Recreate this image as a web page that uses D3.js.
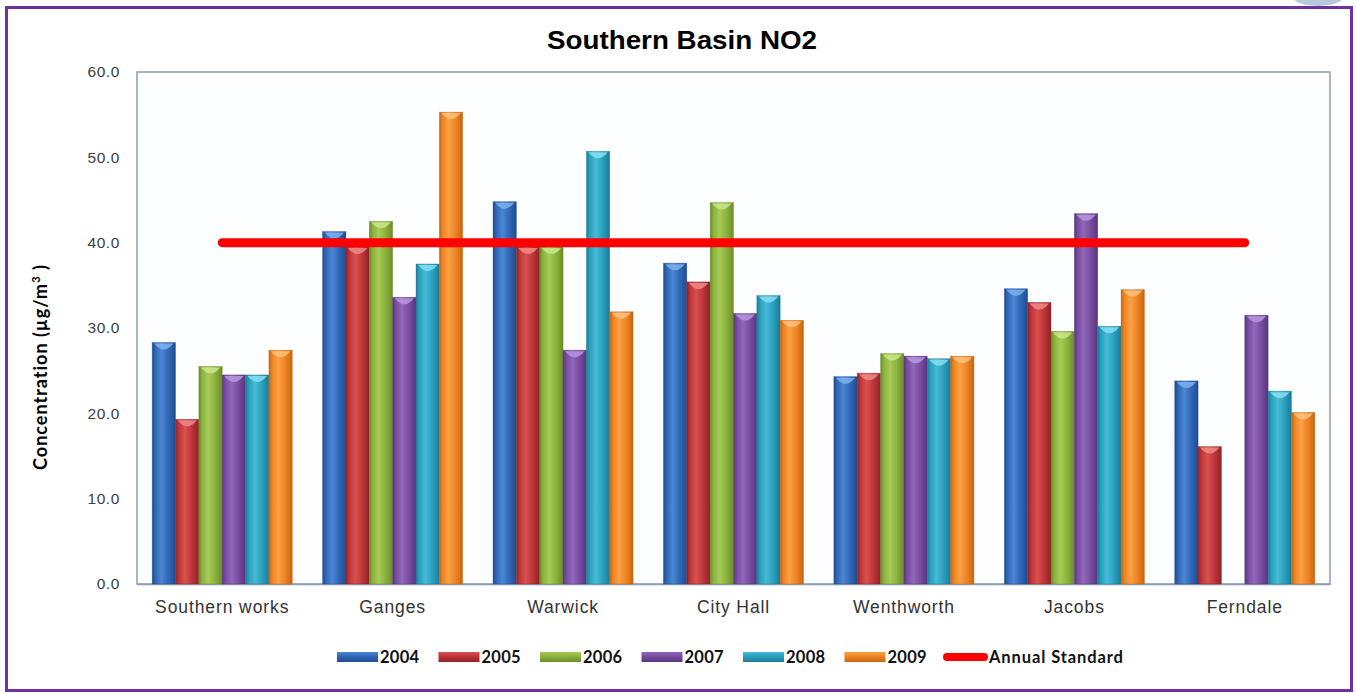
<!DOCTYPE html>
<html>
<head>
<meta charset="utf-8">
<script src="https://cdn.jsdelivr.net/npm/d3@7"></script>
<style>
  html, body { margin: 0; padding: 0; background: #ffffff; }
  svg { display: block; }
</style>
</head>
<body>
<svg id="chart" width="1356" height="693"></svg>
<script>
// Monitoring sites along the x axis
const categories = ["Southern works", "Ganges", "Warwick", "City Hall", "Wenthworth", "Jacobs", "Ferndale"];
// Years shown as grouped bars
const years = ["2004", "2005", "2006", "2007", "2008", "2009"];
// Annual mean NO2 concentration per site (µg/m³), one array per year
const v2004 = [28.3, 41.3, 44.8, 37.6, 24.3, 34.6, 23.8];
const v2005 = [19.3, 39.5, 39.5, 35.4, 24.7, 33.0, 16.1];
const v2006 = [25.5, 42.5, 39.5, 44.7, 27.0, 29.6, null];
const v2007 = [24.5, 33.6, 27.4, 31.7, 26.7, 43.4, 31.5];
const v2008 = [24.5, 37.5, 50.7, 33.8, 26.4, 30.2, 22.6];
const v2009 = [27.4, 55.3, 31.9, 30.9, 26.7, 34.5, 20.1];
// Annual standard for NO2 at every site
const annualStandard = [40, 40, 40, 40, 40, 40, 40];
// Y axis tick values
const yTicks = [0, 10, 20, 30, 40, 50, 60];

const seriesValues = [v2004, v2005, v2006, v2007, v2008, v2009];

// Bar palette: edge, base, highlight, cap
const palette = [
  { dark: "#1f4d8f", base: "#2f67b6", light: "#4b86d4", cap: "#7db0ee" },
  { dark: "#8e2327", base: "#be3539", light: "#d8514f", cap: "#ef8a88" },
  { dark: "#6a8c2a", base: "#8bb23d", light: "#a6cb56", cap: "#c8e88a" },
  { dark: "#58357e", base: "#784ca1", light: "#9167ba", cap: "#b895de" },
  { dark: "#1c7c96", base: "#2a9fbe", light: "#46bad6", cap: "#86def2" },
  { dark: "#c56612", base: "#ef8323", light: "#f9a146", cap: "#fcc27f" }
];

const svg = d3.select("#chart");
const W = 1356, H = 693;

const margin = { left: 137, right: 26, top: 72, bottom: 109 };
const plotW = W - margin.left - margin.right;
const plotH = H - margin.top - margin.bottom;

const defs = svg.append("defs");
palette.forEach((p, i) => {
  const g = defs.append("linearGradient")
    .attr("id", "barGrad" + i).attr("x1", "0").attr("x2", "1").attr("y1", "0").attr("y2", "0");
  [[0, p.dark], [0.14, p.base], [0.4, p.light], [0.7, p.base], [1, p.dark]].forEach(([o, c]) =>
    g.append("stop").attr("offset", o).attr("stop-color", c));
  const gv = defs.append("linearGradient")
    .attr("id", "legGrad" + i).attr("x1", "0").attr("x2", "0").attr("y1", "0").attr("y2", "1");
  [[0, p.light], [0.45, p.base], [1, p.dark]].forEach(([o, c]) =>
    gv.append("stop").attr("offset", o).attr("stop-color", c));
});

// Page frame
svg.append("rect")
  .attr("x", 6.5).attr("y", 7.5).attr("width", 1345).attr("height", 683)
  .attr("fill", "none").attr("stroke", "#7030a0").attr("stroke-width", 3);

// Small page-curl mark at top-right corner
svg.append("ellipse")
  .attr("cx", 1318).attr("cy", -4).attr("rx", 26).attr("ry", 10)
  .attr("fill", "#b9c9dd");

const g = svg.append("g").attr("transform", `translate(${margin.left},${margin.top})`);

const x0 = d3.scaleBand().domain(categories).range([0, plotW]).paddingInner(0.178).paddingOuter(0.089);
const x1 = d3.scaleBand().domain(years).range([0, x0.bandwidth()]).padding(0);
const y = d3.scaleLinear().domain([0, 60]).range([plotH, 0]);

// Plot area
g.append("rect")
  .attr("x", 0).attr("y", 0).attr("width", plotW).attr("height", plotH)
  .attr("fill", "#fcfeff").attr("stroke", "#8d9db3").attr("stroke-width", 1.5);

// Y axis
const yAxis = g.append("g").call(
  d3.axisLeft(y).tickValues(yTicks).tickFormat(d3.format(".1f")).tickSize(0).tickPadding(17)
);
yAxis.select(".domain").remove();
yAxis.selectAll("text")
  .attr("font-family", "'Liberation Sans', Arial, sans-serif")
  .attr("font-size", 15.5).attr("fill", "#404040").attr("letter-spacing", "0.6px");

// X axis
const xAxis = g.append("g").attr("transform", `translate(0,${plotH})`)
  .call(d3.axisBottom(x0).tickSize(0).tickPadding(17));
xAxis.select(".domain").attr("stroke", "#8d9db3").attr("stroke-width", 1.5);
xAxis.selectAll("text")
  .attr("font-family", "'Liberation Sans', Arial, sans-serif")
  .attr("font-size", 17.5).attr("fill", "#333333").attr("letter-spacing", "0.9px");

// Bars
const barData = [];
categories.forEach((c, ci) => {
  years.forEach((yr, si) => {
    const v = seriesValues[si][ci];
    if (v != null) barData.push({ c, yr, si, v });
  });
});

const bars = g.append("g").selectAll("g.bar").data(barData).join("g").attr("class", "bar");
bars.append("rect")
  .attr("x", d => x0(d.c) + x1(d.yr))
  .attr("y", d => y(d.v))
  .attr("width", x1.bandwidth())
  .attr("height", d => y(0) - y(d.v))
  .attr("fill", d => `url(#barGrad${d.si})`)
  .attr("stroke", d => palette[d.si].dark).attr("stroke-width", 0.6).attr("stroke-opacity", 0.6);
// Bevelled top on each bar
bars.append("path")
  .attr("d", d => {
    const bx = x0(d.c) + x1(d.yr), bw = x1.bandwidth(), by = y(d.v);
    return `M${bx + 2},${by + 1} L${bx + bw - 2},${by + 1} Q${bx + bw / 2},${by + 13} ${bx + 2},${by + 1} Z`;
  })
  .attr("fill", d => palette[d.si].cap).attr("opacity", 0.85);

// Annual standard line through category centres
const line = d3.line()
  .x((d, i) => x0(categories[i]) + x0.bandwidth() / 2)
  .y(d => y(d));
g.append("path").datum(annualStandard)
  .attr("d", line)
  .attr("fill", "none").attr("stroke", "#ff0000").attr("stroke-width", 9).attr("stroke-linecap", "round");

// Title
svg.append("text")
  .attr("x", 547).attr("y", 49)
  .attr("font-family", "'Liberation Sans', Arial, sans-serif").attr("font-weight", "bold")
  .attr("font-size", 25).attr("fill", "#000")
  .attr("textLength", 270).attr("lengthAdjust", "spacingAndGlyphs")
  .text("Southern Basin NO2");

// Y axis title
const yt = svg.append("text")
  .attr("transform", "translate(47,367) rotate(-90)").attr("text-anchor", "middle")
  .attr("font-family", "Lato, 'Open Sans', sans-serif").attr("font-weight", "bold")
  .attr("font-size", 18).attr("fill", "#000").attr("letter-spacing", "1px");
yt.append("tspan").text("Concentration  (µg/m");
yt.append("tspan").attr("font-size", 11).attr("dy", -7).text("3");
yt.append("tspan").attr("dy", 7).text(" )");

// Legend
const legendItems = years.map((yr, i) => ({ label: yr, type: "bar", i }))
  .concat([{ label: "Annual Standard", type: "line" }]);
const legend = svg.append("g").attr("transform", "translate(337,657)");
const step = 101.5;
legendItems.forEach((it, k) => {
  const lg = legend.append("g").attr("transform", `translate(${k * step},0)`);
  if (it.type === "bar") {
    lg.append("rect").attr("x", 0).attr("y", -5).attr("width", 41).attr("height", 10)
      .attr("fill", `url(#legGrad${it.i})`);
  } else {
    lg.append("line").attr("x1", 1).attr("x2", 38).attr("y1", 0).attr("y2", 0)
      .attr("stroke", "#ff0000").attr("stroke-width", 8).attr("stroke-linecap", "round");
  }
  lg.append("text").attr("x", 43).attr("y", 6)
    .attr("font-family", "Lato, 'Open Sans', sans-serif").attr("font-weight", "bold")
    .attr("font-size", 16.5).attr("fill", "#111")
    .attr("letter-spacing", it.type === "bar" ? "0.3px" : "0.9px")
    .text(it.label);
});
</script>
</body>
</html>
